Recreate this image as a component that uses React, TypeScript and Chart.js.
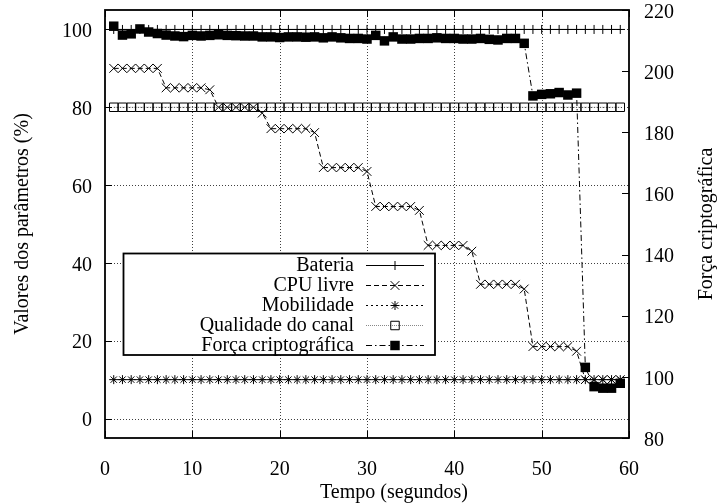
import React, { useEffect, useRef } from "react";
import { Chart, registerables } from "chart.js";
import { drawPoint } from "chart.js/helpers";

Chart.register(...registerables);

const FONT = "'Liberation Serif', 'Times New Roman', serif";

// ---------- data ----------
const times = [
  1, 2, 3, 4, 5, 6, 7, 8, 9, 10, 11, 12, 13, 14, 15, 16, 17, 18, 19, 20,
  21, 22, 23, 24, 25, 26, 27, 28, 29, 30, 31, 32, 33, 34, 35, 36, 37, 38, 39, 40,
  41, 42, 43, 44, 45, 46, 47, 48, 49, 50, 51, 52, 53, 54, 55, 56, 57, 58, 59,
];

const bateria = [
  100, 100, 100, 100, 100, 100, 100, 100, 100, 100, 100, 100, 100, 100, 100, 100, 100, 100, 100, 100,
  100, 100, 100, 100, 100, 100, 100, 100, 100, 100, 100, 100, 100, 100, 100, 100, 100, 100, 100, 100,
  100, 100, 100, 100, 100, 100, 100, 100, 100, 100, 100, 100, 100, 100, 100, 100, 100, 100, 100,
];

const cpuLivre = [
  90, 90, 90, 90, 90, 90,
  85, 85, 85, 85, 85, 84.5,
  80, 80, 80, 80, 80, 78.5,
  74.5, 74.5, 74.5, 74.5, 74.5, 73.5,
  64.5, 64.5, 64.5, 64.5, 64.5, 63.5,
  54.5, 54.5, 54.5, 54.5, 54.5, 53.5,
  44.5, 44.5, 44.5, 44.5, 44.5, 43,
  34.5, 34.5, 34.5, 34.5, 34.5, 33.3,
  18.5, 18.5, 18.5, 18.5, 18.5, 17.3,
  10, 10, 10, 10, 10,
];

const mobilidade = [
  10, 10, 10, 10, 10, 10, 10, 10, 10, 10, 10, 10, 10, 10, 10, 10, 10, 10, 10, 10,
  10, 10, 10, 10, 10, 10, 10, 10, 10, 10, 10, 10, 10, 10, 10, 10, 10, 10, 10, 10,
  10, 10, 10, 10, 10, 10, 10, 10, 10, 10, 10, 10, 10, 10, 10, 10, 10, 10, 10,
];

const qualidadeCanal = [
  80, 80, 80, 80, 80, 80, 80, 80, 80, 80, 80, 80, 80, 80, 80, 80, 80, 80, 80, 80,
  80, 80, 80, 80, 80, 80, 80, 80, 80, 80, 80, 80, 80, 80, 80, 80, 80, 80, 80, 80,
  80, 80, 80, 80, 80, 80, 80, 80, 80, 80, 80, 80, 80, 80, 80, 80, 80, 80, 80,
];

const forcaCripto = [
  214.7, 211.8, 212.2, 213.8, 212.8, 212.3, 211.8, 211.5, 211.3, 211.7,
  211.5, 211.7, 211.9, 211.7, 211.6, 211.5, 211.5, 211.2, 211.2, 211.0,
  211.2, 211.2, 211.1, 211.2, 210.9, 211.2, 210.9, 210.7, 210.7, 210.5,
  211.7, 209.9, 211.2, 210.5, 210.5, 210.7, 210.7, 210.9, 210.7, 210.7,
  210.5, 210.5, 210.7, 210.4, 210.2, 210.7, 210.7, 209.1, 191.9, 192.4,
  192.6, 193.0, 192.2, 192.8, 103.1, 96.8, 96.3, 96.3, 97.9,
];

const seriesLabels = [
  "Bateria",
  "CPU livre",
  "Mobilidade",
  "Qualidade do canal",
  "Força criptográfica",
];

const xTicks = [0, 10, 20, 30, 40, 50, 60];
const yTicks = [0, 20, 40, 60, 80, 100];
const y2Ticks = [80, 100, 120, 140, 160, 180, 200, 220];

const xTitle = "Tempo (segundos)";
const yTitle = "Valores dos parâmetros (%)";
const y2Title = "Força criptográfica";

// ---------- helpers ----------
const toPoints = (vals: number[]) => times.map((t, i) => ({ x: t, y: vals[i] }));

const fixedTicks = (values: number[]) => (scale: any) => {
  scale.ticks = values.map((v) => ({ value: v }));
};

const noPad = (scale: any) => {
  scale.paddingTop = 0;
  scale.paddingBottom = 0;
  scale.paddingLeft = 0;
  scale.paddingRight = 0;
};

const TICK_LEN = 7;

const gnuplotPlugin = {
  id: "gnuplotDecor",
  beforeDatasetsDraw(chart: any) {
    const { ctx, chartArea: a, scales } = chart;
    ctx.save();
    ctx.strokeStyle = "rgba(0,0,0,0.75)";
    ctx.lineWidth = 1;
    ctx.setLineDash([1, 2]);
    for (const v of xTicks) {
      if (v === scales.x.min || v === scales.x.max) continue;
      const px = Math.round(scales.x.getPixelForValue(v)) + 0.5;
      ctx.beginPath();
      ctx.moveTo(px, a.top);
      ctx.lineTo(px, a.bottom);
      ctx.stroke();
    }
    for (const v of yTicks) {
      const py = Math.round(scales.y.getPixelForValue(v)) + 0.5;
      ctx.beginPath();
      ctx.moveTo(a.left, py);
      ctx.lineTo(a.right, py);
      ctx.stroke();
    }
    ctx.restore();
  },
  afterDatasetsDraw(chart: any) {
    const { ctx, chartArea: a, scales } = chart;
    ctx.save();
    ctx.setLineDash([]);
    ctx.strokeStyle = "#000";
    // inward tick marks
    ctx.lineWidth = 1;
    for (const v of xTicks) {
      const px = Math.round(scales.x.getPixelForValue(v)) + 0.5;
      ctx.beginPath();
      ctx.moveTo(px, a.bottom);
      ctx.lineTo(px, a.bottom - TICK_LEN);
      ctx.moveTo(px, a.top);
      ctx.lineTo(px, a.top + TICK_LEN);
      ctx.stroke();
    }
    for (const v of yTicks) {
      const py = Math.round(scales.y.getPixelForValue(v)) + 0.5;
      ctx.beginPath();
      ctx.moveTo(a.left, py);
      ctx.lineTo(a.left + TICK_LEN, py);
      ctx.stroke();
    }
    for (const v of y2Ticks) {
      const py = Math.round(scales.y2.getPixelForValue(v)) + 0.5;
      ctx.beginPath();
      ctx.moveTo(a.right, py);
      ctx.lineTo(a.right - TICK_LEN, py);
      ctx.stroke();
    }
    // frame
    ctx.lineWidth = 1.8;
    ctx.strokeRect(a.left, a.top, a.right - a.left, a.bottom - a.top);
    ctx.restore();
  },
  afterDraw(chart: any) {
    const { ctx, scales } = chart;
    ctx.save();
    ctx.fillStyle = "#000";
    ctx.font = `20px ${FONT}`;
    ctx.textAlign = "center";
    ctx.textBaseline = "alphabetic";
    // x axis title
    ctx.fillText(xTitle, 394, 498);
    // right axis title (reads bottom-to-top)
    ctx.translate(712, (scales.y2.top + scales.y2.bottom) / 2);
    ctx.rotate(-Math.PI / 2);
    ctx.fillText(y2Title, 0, 0);
    ctx.restore();

    // legend box
    const bx = 123.5, by = 253.5, bw = 311.5, bh = 101.5;
    ctx.save();
    ctx.fillStyle = "#fff";
    ctx.fillRect(bx, by, bw, bh);
    ctx.strokeStyle = "#000";
    ctx.lineWidth = 1.8;
    ctx.strokeRect(bx, by, bw, bh);
    ctx.font = `20px ${FONT}`;
    ctx.textAlign = "right";
    ctx.textBaseline = "middle";
    chart.data.datasets.forEach((ds: any, i: number) => {
      const cy = 264.5 + i * 20.1;
      ctx.fillStyle = "#000";
      ctx.fillText(ds.label, 354, cy + 1);
      ctx.save();
      ctx.strokeStyle = ds.borderColor;
      ctx.lineWidth = ds.borderWidth;
      ctx.setLineDash(ds.borderDash || []);
      ctx.beginPath();
      ctx.moveTo(366, Math.round(cy) + 0.5);
      ctx.lineTo(424, Math.round(cy) + 0.5);
      ctx.stroke();
      ctx.setLineDash([]);
      ctx.strokeStyle = ds.pointBorderColor;
      ctx.fillStyle = ds.pointBackgroundColor;
      drawPoint(
        ctx,
        { pointStyle: ds.pointStyle, radius: ds.pointRadius, borderWidth: ds.pointBorderWidth, rotation: 0 },
        395,
        Math.round(cy) + 0.5
      );
      ctx.restore();
    });
    ctx.restore();
  },
};

export default function App() {
  const ref = useRef<HTMLCanvasElement | null>(null);

  useEffect(() => {
    if (!ref.current) return;
    const tickFont = { family: FONT, size: 20 };
    const chart = new Chart(ref.current, {
      type: "line",
      data: {
        datasets: [
          {
            label: seriesLabels[0],
            data: toPoints(bateria),
            yAxisID: "y",
            borderColor: "#000",
            borderWidth: 1,
            borderDash: [],
            pointStyle: "cross",
            pointRadius: 4.5,
            pointBorderWidth: 1,
            pointBorderColor: "#000",
            pointBackgroundColor: "transparent",
            order: 5,
          },
          {
            label: seriesLabels[1],
            data: toPoints(cpuLivre),
            yAxisID: "y",
            borderColor: "#000",
            borderWidth: 1,
            borderDash: [5, 3],
            pointStyle: "crossRot",
            pointRadius: 6.2,
            pointBorderWidth: 1,
            pointBorderColor: "#000",
            pointBackgroundColor: "transparent",
            order: 4,
          },
          {
            label: seriesLabels[2],
            data: toPoints(mobilidade),
            yAxisID: "y",
            borderColor: "#000",
            borderWidth: 1,
            borderDash: [2, 3],
            pointStyle: "star",
            pointRadius: 4.5,
            pointBorderWidth: 1,
            pointBorderColor: "#000",
            pointBackgroundColor: "transparent",
            order: 3,
          },
          {
            label: seriesLabels[3],
            data: toPoints(qualidadeCanal),
            yAxisID: "y",
            borderColor: "#888",
            borderWidth: 1,
            borderDash: [1, 1],
            pointStyle: "rect",
            pointRadius: 6,
            pointBorderWidth: 1,
            pointBorderColor: "#000",
            pointBackgroundColor: "transparent",
            order: 2,
          },
          {
            label: seriesLabels[4],
            data: toPoints(forcaCripto),
            yAxisID: "y2",
            borderColor: "#000",
            borderWidth: 1,
            borderDash: [6, 3, 1.5, 3],
            pointStyle: "rect",
            pointRadius: 6.7,
            pointBorderWidth: 0,
            pointBorderColor: "#000",
            pointBackgroundColor: "#000",
            order: 1,
          },
        ],
      },
      options: {
        animation: false,
        responsive: false,
        events: [],
        layout: { padding: { top: 10, left: 0, right: 0, bottom: 0 } },
        plugins: {
          legend: { display: false },
          tooltip: { enabled: false },
        },
        elements: { line: { tension: 0 } },
        scales: {
          x: {
            type: "linear",
            min: 0,
            max: 60,
            afterBuildTicks: fixedTicks(xTicks),
            afterFit: (s: any) => {
              s.height = 65;
              noPad(s);
            },
            grid: { display: false, drawTicks: false },
            border: { display: false },
            ticks: { font: tickFont, color: "#000", padding: 20, maxRotation: 0, autoSkip: false },
            title: { display: false },
          },
          y: {
            type: "linear",
            position: "left",
            min: -5,
            max: 105,
            afterBuildTicks: fixedTicks(yTicks),
            afterFit: (s: any) => {
              s.width = 105;
              noPad(s);
            },
            grid: { display: false, drawTicks: false },
            border: { display: false },
            ticks: { font: tickFont, color: "#000", padding: 13, labelOffset: 2.5, autoSkip: false },
            title: {
              display: true,
              text: yTitle,
              font: { family: FONT, size: 20 },
              color: "#000",
              padding: { top: 11, bottom: 0 },
            },
          },
          y2: {
            type: "linear",
            position: "right",
            min: 80,
            max: 220,
            afterBuildTicks: fixedTicks(y2Ticks),
            afterFit: (s: any) => {
              s.width = 96;
              noPad(s);
            },
            grid: { display: false, drawTicks: false },
            border: { display: false },
            ticks: { font: tickFont, color: "#000", padding: 15, labelOffset: 2.5, autoSkip: false },
          },
        },
      },
      plugins: [gnuplotPlugin],
    } as any);
    return () => chart.destroy();
  }, []);

  return (
    <div style={{ position: "fixed", left: 0, top: 0, width: 725, height: 503, background: "#fff" }}>
      <canvas ref={ref} width={725} height={503} style={{ display: "block", width: 725, height: 503 }} />
    </div>
  );
}
